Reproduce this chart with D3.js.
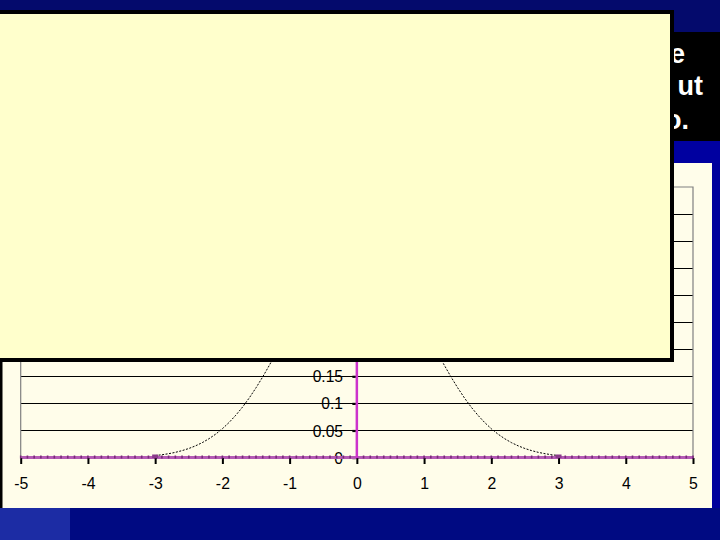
<!DOCTYPE html>
<html>
<head>
<meta charset="utf-8">
<script src="https://cdn.jsdelivr.net/npm/d3@7"></script>
<style>
  html, body { margin: 0; padding: 0; background: #00087c; }
  svg { display: block; }
</style>
</head>
<body>
<svg id="chart" width="720" height="540"></svg>
<script>
// ---- data ----
const curveX = [-3.0,-2.9,-2.8,-2.7,-2.6,-2.5,-2.4,-2.3,-2.2,-2.1,-2.0,-1.9,-1.8,-1.7,-1.6,-1.5,-1.4,-1.3,-1.2,-1.1,-1.0,-0.9,-0.8,-0.7,-0.6,-0.5,-0.4,-0.3,-0.2,-0.1,0.0,0.1,0.2,0.3,0.4,0.5,0.6,0.7,0.8,0.9,1.0,1.1,1.2,1.3,1.4,1.5,1.6,1.7,1.8,1.9,2.0,2.1,2.2,2.3,2.4,2.5,2.6,2.7,2.8,2.9,3.0];
const curveY = [0.0044,0.0060,0.0079,0.0104,0.0136,0.0175,0.0224,0.0283,0.0355,0.0440,0.0540,0.0656,0.0790,0.0940,0.1109,0.1295,0.1497,0.1714,0.1942,0.2179,0.2420,0.2661,0.2897,0.3123,0.3332,0.3521,0.3683,0.3814,0.3910,0.3970,0.3989,0.3970,0.3910,0.3814,0.3683,0.3521,0.3332,0.3123,0.2897,0.2661,0.2420,0.2179,0.1942,0.1714,0.1497,0.1295,0.1109,0.0940,0.0790,0.0656,0.0540,0.0440,0.0355,0.0283,0.0224,0.0175,0.0136,0.0104,0.0079,0.0060,0.0044];
const xTickValues = [-5,-4,-3,-2,-1,0,1,2,3,4,5];
const xTickLabels = ["-5","-4","-3","-2","-1","0","1","2","3","4","5"];
const yTickValues = [0,0.05,0.1,0.15,0.2,0.25,0.3,0.35,0.4,0.45,0.5];
const yTickLabels = ["0","0.05","0.1","0.15","0.2","0.25","0.3","0.35","0.4","0.45","0.5"];
const textHeads = ["The standard normal distribution is th", "bell-shaped curve, symmetric abo", "its mean is zer"];
const textTails = ["e", "ut", "o."];

// ---- drawing ----
const svg = d3.select("#chart");

// slide background
svg.append("rect").attr("x",0).attr("y",0).attr("width",720).attr("height",540).attr("fill","#00087c");
svg.append("rect").attr("x",0).attr("y",0).attr("width",720).attr("height",32).attr("fill","#040a6c");
svg.append("rect").attr("x",0).attr("y",141).attr("width",720).attr("height",22).attr("fill","#0000a0");
svg.append("rect").attr("x",712).attr("y",163).attr("width",8).attr("height",345).attr("fill","#00009c");
svg.append("rect").attr("x",0).attr("y",508).attr("width",720).attr("height",32).attr("fill","#000a82");
svg.append("rect").attr("x",0).attr("y",508).attr("width",70).attr("height",32).attr("fill","#1c2ca4");

// black title band with text
svg.append("rect").attr("x",0).attr("y",32).attr("width",720).attr("height",109).attr("fill","#000");
const lineEnds = [685, 703, 689];
const lineBase = [63, 95, 129];
const tailGap = [0, 4, 0];
textHeads.forEach((t,i) => {
  const tx = svg.append("text").attr("x", lineEnds[i]).attr("y", lineBase[i])
    .attr("text-anchor","end").attr("fill","#fff")
    .attr("font-family","Liberation Sans, Arial, sans-serif")
    .attr("font-weight","bold").attr("font-size",27);
  tx.append("tspan").text(t);
  tx.append("tspan").attr("dx", tailGap[i]).text(textTails[i]);
});

// chart panel
svg.append("rect").attr("x",0).attr("y",163).attr("width",712).attr("height",345).attr("fill","#fffdea");
svg.append("rect").attr("x",0).attr("y",163).attr("width",2.5).attr("height",345).attr("fill","#000");

const x = d3.scaleLinear().domain([-5,5]).range([20.7,693]);
const y = d3.scaleLinear().domain([0,0.5]).range([458,187]);

// gridlines
svg.append("g").selectAll("line").data(yTickValues.filter(v => v > 0 && v < 0.5)).join("line")
  .attr("x1", x(-5)).attr("x2", x(5)).attr("y1", d => y(d)).attr("y2", d => y(d))
  .attr("stroke","#000").attr("stroke-width",1).attr("shape-rendering","crispEdges");

// plot border (gray)
svg.append("path")
  .attr("d", `M${x(-5)},${y(0)}V${y(0.5)}H${x(5)}V${y(0)}`)
  .attr("fill","none").attr("stroke","#808080").attr("stroke-width",1.2);

// y axis labels (drawn over gridlines)
const fontFam = "Liberation Sans, Arial, sans-serif";
svg.append("g").selectAll("text").data(yTickValues).join("text")
  .attr("x", 343).attr("y", d => y(d)).attr("dy","0.36em")
  .attr("text-anchor","end").attr("font-family",fontFam).attr("font-size",15.6).attr("fill","#000")
  .text((d,i) => yTickLabels[i]);
svg.append("g").selectAll("rect").data(yTickValues).join("rect")
  .attr("x", x(0) - 4.5).attr("y", d => y(d) - 1).attr("width",3.5).attr("height",2.2).attr("fill","#000");

// x-axis baseline (purple) with minor ticks
const xAxis = d3.axisBottom(x).tickValues(xTickValues).tickFormat((d,i) => xTickLabels[i]).tickSize(6).tickSizeOuter(0);
const gx = svg.append("g").attr("transform",`translate(0,${y(0)})`).call(xAxis);
gx.select(".domain").attr("stroke","#b45ab4").attr("stroke-width",3).attr("transform","translate(0,-1)");
gx.selectAll(".tick line").attr("stroke","#000").attr("stroke-width",2);
gx.selectAll(".tick text").attr("font-family",fontFam).attr("font-size",15.8).attr("fill","#000").attr("y",20).attr("dy","0.71em");
const minor = d3.range(-50, 51).map(k => k / 10);
svg.append("g").selectAll("rect").data(minor).join("rect")
  .attr("x", d => x(d) - 0.8).attr("y", y(0) - 2.5).attr("width",1.6).attr("height",3).attr("fill","#7a2a7a");

// y axis (magenta at x=0)
svg.append("line").attr("x1",x(0)).attr("x2",x(0)).attr("y1",y(0)).attr("y2",y(0.5))
  .attr("stroke","#cc33cc").attr("stroke-width",2.5);

// normal curve (dotted)
const pts = curveX.map((v,i) => [v, curveY[i]]);
svg.append("path").datum(pts)
  .attr("d", d3.line().x(d => x(d[0])).y(d => y(d[1])))
  .attr("fill","none").attr("stroke","#000").attr("stroke-width",1).attr("stroke-dasharray","2,1.5");
// end markers of curve
svg.append("g").selectAll("rect").data([pts[0], pts[pts.length-1]]).join("rect")
  .attr("x", d => x(d[0]) - 3).attr("y", y(0) - 3.5).attr("width",6).attr("height",3.5).attr("fill","#8a3a8a");

// yellow overlay box
svg.append("rect").attr("x",-6).attr("y",12).attr("width",678).attr("height",348)
  .attr("fill","#ffffcc").attr("stroke","#000").attr("stroke-width",4);
</script>
</body>
</html>
